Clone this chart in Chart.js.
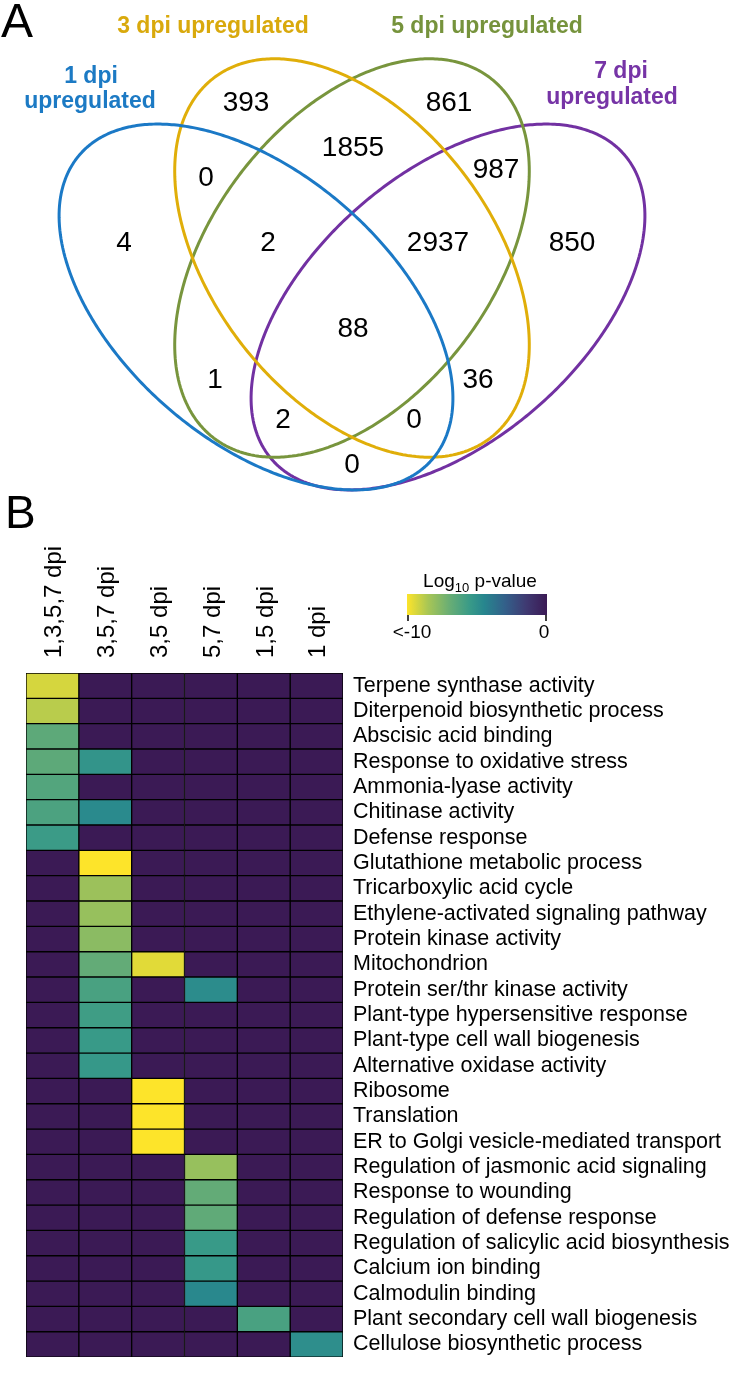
<!DOCTYPE html>
<html>
<head>
<meta charset="utf-8">
<title>Venn + GO heatmap</title>
<script src="https://cdn.jsdelivr.net/npm/chart.js@4.4.1/dist/chart.umd.min.js"></script>
<style>
  html, body { margin: 0; padding: 0; background: #fff; }
  #page { position: relative; width: 734px; height: 1380px; overflow: hidden; }
  #venn { position: absolute; left: 0; top: 0; }
  #heat { position: absolute; left: 0; top: 495px; }
</style>
</head>
<body>
<div id="page">
  <canvas id="venn" width="734" height="495"></canvas>
  <canvas id="heat" width="734" height="885"></canvas>
</div>
<script>
// ---- data: Venn diagram (panel A) ----
const setNames = ['1 dpi', '3 dpi', '5 dpi', '7 dpi'];
const vennRegions = ['3', '5', '3,5', '1,3', '5,7', '1', '1,3,5', '3,5,7', '7',
  '1,3,5,7', '1,5', '3,7', '1,5,7', '1,3,7', '1,7'];
const vennCounts = [393, 861, 1855, 0, 987, 4, 2, 2937, 850, 88, 1, 36, 2, 0, 0];

// ---- data: GO enrichment heatmap (panel B) ----
const colLabels = ['1,3,5,7 dpi', '3,5,7 dpi', '3,5 dpi', '5,7 dpi', '1,5 dpi', '1 dpi'];
const termLabels = [
  'Terpene synthase activity',
  'Diterpenoid biosynthetic process',
  'Abscisic acid binding',
  'Response to oxidative stress',
  'Ammonia-lyase activity',
  'Chitinase activity',
  'Defense response',
  'Glutathione metabolic process',
  'Tricarboxylic acid cycle',
  'Ethylene-activated signaling pathway',
  'Protein kinase activity',
  'Mitochondrion',
  'Protein ser/thr kinase activity',
  'Plant-type hypersensitive response',
  'Plant-type cell wall biogenesis',
  'Alternative oxidase activity',
  'Ribosome',
  'Translation',
  'ER to Golgi vesicle-mediated transport',
  'Regulation of jasmonic acid signaling',
  'Response to wounding',
  'Regulation of defense response',
  'Regulation of salicylic acid biosynthesis',
  'Calcium ion binding',
  'Calmodulin binding',
  'Plant secondary cell wall biogenesis',
  'Cellulose biosynthetic process'
];
// log10 p-values, one array per column (0 = not enriched)
const logP_1357 = [-9.3, -8.8, -6.6, -6.6, -6.3, -6.1, -5.6, 0, 0, 0, 0, 0, 0, 0, 0, 0, 0, 0, 0, 0, 0, 0, 0, 0, 0, 0, 0];
const logP_357  = [0, 0, 0, -5.2, 0, -4.7, 0, -10, -8.2, -8.1, -7.8, -6.8, -6.0, -5.7, -5.5, -5.4, 0, 0, 0, 0, 0, 0, 0, 0, 0, 0, 0];
const logP_35   = [0, 0, 0, 0, 0, 0, 0, 0, 0, 0, 0, -9.5, 0, 0, 0, 0, -10, -10, -10, 0, 0, 0, 0, 0, 0, 0, 0];
const logP_57   = [0, 0, 0, 0, 0, 0, 0, 0, 0, 0, 0, 0, -4.8, 0, 0, 0, 0, 0, 0, -8.1, -6.8, -6.7, -5.5, -5.4, -4.6, 0, 0];
const logP_15   = [0, 0, 0, 0, 0, 0, 0, 0, 0, 0, 0, 0, 0, 0, 0, 0, 0, 0, 0, 0, 0, 0, 0, 0, 0, -6.0, 0];
const logP_1    = [0, 0, 0, 0, 0, 0, 0, 0, 0, 0, 0, 0, 0, 0, 0, 0, 0, 0, 0, 0, 0, 0, 0, 0, 0, 0, -4.9];
const colorbarTicks = ['<-10', '0'];
const pMin = -10;

// ---- layout / style ----
const FONT = '"Liberation Sans", Arial, Helvetica, sans-serif';
const setColors = ['#1b79c6', '#e0ae09', '#78953d', '#7231a2'];
const setTitleColors = ['#1c7ac4', '#d9a90c', '#76933c', '#7634a6'];
// ellipse geometry in venn canvas pixels: centre, semi-axes, tilt (deg)
const ellipses = [
  { cx: 256, cy: 307, a: 233, b: 134, rot: 40.8 },
  { cx: 352, cy: 258, a: 227, b: 140, rot: 52.5 },
  { cx: 352, cy: 258, a: 227, b: 140, rot: -52.5 },
  { cx: 448, cy: 307, a: 233, b: 134, rot: -40.8 }
];
const regionPos = {
  '3': [246, 103], '5': [449, 103], '3,5': [353, 148], '1,3': [206, 178],
  '5,7': [496, 170], '1': [124, 243], '1,3,5': [268, 243], '3,5,7': [438, 243],
  '7': [572, 243], '1,3,5,7': [353, 329], '1,5': [215, 380], '3,7': [478, 380],
  '1,5,7': [283, 420], '1,3,7': [414, 420], '1,7': [352, 465]
};
// title lines for each set: [text, x, y]
const titleLines = [
  [['1 dpi', 91, 77], ['upregulated', 90, 102]],
  [['3 dpi upregulated', 213, 27]],
  [['5 dpi upregulated', 487, 27]],
  [['7 dpi', 621, 72], ['upregulated', 612, 98]]
];

// viridis-like colour ramp, 0 -> dark, 1 -> yellow
const rampStops = [
  [0.00, [59, 26, 85]],
  [0.15, [63, 58, 114]],
  [0.30, [51, 96, 138]],
  [0.45, [39, 134, 142]],
  [0.55, [56, 154, 136]],
  [0.70, [106, 174, 116]],
  [0.85, [168, 198, 85]],
  [1.00, [253, 228, 42]]
];
function rampColor(t) {
  t = Math.max(0, Math.min(1, t));
  for (let i = 1; i < rampStops.length; i++) {
    const [t1, c1] = rampStops[i];
    const [t0, c0] = rampStops[i - 1];
    if (t <= t1) {
      const f = (t - t0) / (t1 - t0);
      const c = c0.map((v, k) => Math.round(v + f * (c1[k] - v)));
      return `rgb(${c[0]},${c[1]},${c[2]})`;
    }
  }
  return 'rgb(253,228,42)';
}
const colorFor = (v) => rampColor(v / pMin);

// ================= Panel A: Venn =================
function ellipsePoints(e) {
  const pts = [];
  const th = e.rot * Math.PI / 180;
  const n = 240;
  for (let i = 0; i <= n + 2; i++) {
    const t = (i / n) * Math.PI * 2;
    pts.push({
      x: e.cx + e.a * Math.cos(t) * Math.cos(th) - e.b * Math.sin(t) * Math.sin(th),
      y: e.cy + e.a * Math.cos(t) * Math.sin(th) + e.b * Math.sin(t) * Math.cos(th)
    });
  }
  return pts;
}

const vennText = {
  id: 'vennText',
  afterDatasetsDraw(chart) {
    const ctx = chart.ctx;
    const sx = chart.scales.x, sy = chart.scales.y;
    ctx.save();
    ctx.textAlign = 'center';
    ctx.textBaseline = 'middle';
    ctx.fillStyle = '#000';
    ctx.font = `28px ${FONT}`;
    vennRegions.forEach((r, i) => {
      const p = regionPos[r];
      ctx.fillText(String(vennCounts[i]), sx.getPixelForValue(p[0]), sy.getPixelForValue(p[1]));
    });
    ctx.font = `bold 23px ${FONT}`;
    titleLines.forEach((lines, s) => {
      ctx.fillStyle = setTitleColors[s];
      lines.forEach(([txt, x, y]) => ctx.fillText(txt, sx.getPixelForValue(x), sy.getPixelForValue(y)));
    });
    ctx.fillStyle = '#000';
    ctx.textAlign = 'left';
    ctx.textBaseline = 'alphabetic';
    ctx.font = `48px ${FONT}`;
    ctx.fillText('A', 1, 37);
    ctx.restore();
  }
};

new Chart(document.getElementById('venn'), {
  type: 'scatter',
  data: {
    datasets: ellipses.map((e, i) => ({
      label: setNames[i] + ' upregulated',
      data: ellipsePoints(e),
      showLine: true,
      borderColor: setColors[i],
      borderWidth: 3,
      borderJoinStyle: 'round',
      pointRadius: 0,
      tension: 0.05,
      fill: false
    }))
  },
  options: {
    responsive: false,
    animation: false,
    layout: { padding: 0 },
    plugins: { legend: { display: false }, tooltip: { enabled: false } },
    scales: {
      x: { type: 'linear', min: 0, max: 734, display: false },
      y: { type: 'linear', min: 0, max: 495, reverse: true, display: false }
    }
  },
  plugins: [vennText]
});

// ================= Panel B: heatmap =================
const columns = [logP_1357, logP_357, logP_35, logP_57, logP_15, logP_1];

const colorbar = {
  id: 'colorbar',
  afterDraw(chart) {
    const ctx = chart.ctx;
    const x0 = 407, x1 = 547, y0 = 99, y1 = 120;
    ctx.save();
    const g = ctx.createLinearGradient(x0, 0, x1, 0);
    rampStops.forEach(([t]) => g.addColorStop(1 - t, rampColor(t)));
    ctx.fillStyle = g;
    ctx.fillRect(x0, y0, x1 - x0, y1 - y0);
    ctx.strokeStyle = '#000';
    ctx.lineWidth = 1.5;
    ctx.beginPath();
    ctx.moveTo(x0 + 1, y1); ctx.lineTo(x0 + 1, y1 + 6);
    ctx.moveTo(x1 - 1, y1); ctx.lineTo(x1 - 1, y1 + 6);
    ctx.stroke();
    ctx.fillStyle = '#000';
    ctx.textBaseline = 'middle';
    ctx.textAlign = 'center';
    ctx.font = `19px ${FONT}`;
    ctx.fillText(colorbarTicks[0], 412, 138);
    ctx.fillText(colorbarTicks[1], 544, 138);
    // title with subscript
    const big = `19px ${FONT}`, small = `13px ${FONT}`;
    ctx.font = big; const wLog = ctx.measureText('Log').width, wP = ctx.measureText(' p-value').width;
    ctx.font = small; const w10 = ctx.measureText('10').width;
    let x = 480 - (wLog + w10 + wP) / 2;
    ctx.textAlign = 'left';
    ctx.font = big; ctx.fillText('Log', x, 87); x += wLog;
    ctx.font = small; ctx.fillText('10', x, 93); x += w10;
    ctx.font = big; ctx.fillText(' p-value', x, 87);
    // panel letter
    ctx.textBaseline = 'alphabetic';
    ctx.font = `46px ${FONT}`;
    ctx.fillText('B', 5, 33);
    ctx.restore();
  }
};

new Chart(document.getElementById('heat'), {
  type: 'bar',
  data: {
    labels: termLabels,
    datasets: columns.map((vals, c) => ({
      label: colLabels[c],
      data: vals.map(() => [c, c + 1]),
      backgroundColor: vals.map(colorFor),
      borderColor: '#000',
      borderWidth: 1,
      borderSkipped: false,
      barPercentage: 1,
      categoryPercentage: 1,
      grouped: false
    }))
  },
  options: {
    indexAxis: 'y',
    responsive: false,
    animation: false,
    layout: { padding: { left: 26, right: 0, top: 0, bottom: 12 } },
    plugins: { legend: { display: false }, tooltip: { enabled: false } },
    scales: {
      x: {
        type: 'linear',
        position: 'top',
        min: 0,
        max: colLabels.length,
        grid: { display: false, drawTicks: false },
        border: { display: false },
        afterBuildTicks: (axis) => { axis.ticks = colLabels.map((_, i) => ({ value: i + 0.5 })); },
        afterFit: (axis) => { axis.height = 178; },
        ticks: {
          autoSkip: false,
          minRotation: 90,
          maxRotation: 90,
          padding: 15,
          labelOffset: 31,
          color: '#000',
          font: { size: 24, family: FONT },
          callback: (v) => colLabels[Math.floor(v)]
        }
      },
      y: {
        type: 'category',
        position: 'right',
        grid: { display: false, drawTicks: false },
        border: { display: false },
        afterFit: (axis) => { axis.width = 391; },
        ticks: { autoSkip: false, padding: 10, color: '#000', font: { size: 21.5, family: FONT } }
      }
    }
  },
  plugins: [colorbar]
});
</script>
</body>
</html>
